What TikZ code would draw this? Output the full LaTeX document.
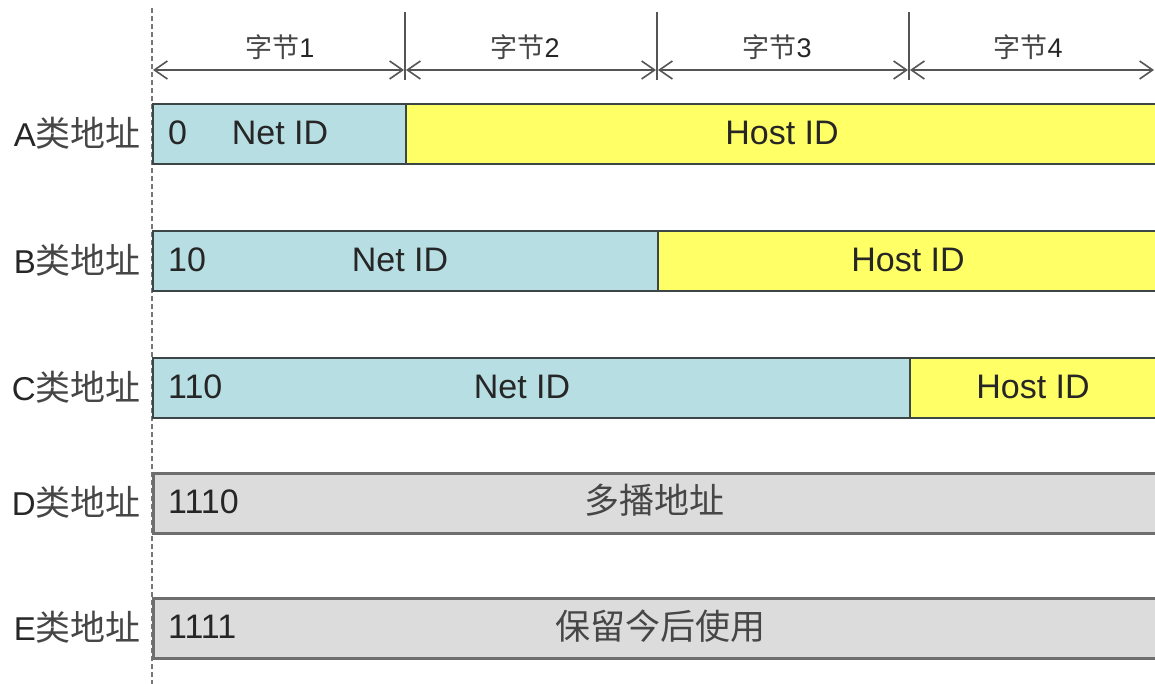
\documentclass[tikz,border=0pt]{standalone}
\usepackage{fontspec}
\setmainfont{Liberation Sans}
\newfontfamily\cjk{Noto Sans CJK SC}
\usetikzlibrary{arrows.meta}
\definecolor{netc}{RGB}{183,222,227}
\definecolor{hostc}{RGB}{255,255,102}
\definecolor{grayc}{RGB}{220,220,220}
\definecolor{edgec}{RGB}{60,70,70}
\definecolor{gedgec}{RGB}{110,110,110}
\definecolor{dimc}{RGB}{85,85,85}
\definecolor{cjkc}{RGB}{70,70,70}
\tikzset{
  seg/.style={draw=edgec, line width=2.2pt, inner sep=0pt, minimum height=60pt, anchor=north west},
  gseg/.style={seg, draw=gedgec, line width=2.6pt, fill=grayc},
  txt/.style={inner sep=0pt, font=\fontsize{34}{37}\selectfont, text=black!85},
  cjktxt/.style={inner sep=0pt, font=\cjk\fontsize{35}{38}\selectfont, text=cjkc},
  rowlbl/.style={inner sep=0pt, anchor=east, font=\fontsize{33}{36}\selectfont, text=black!85},
  dimlbl/.style={inner sep=0pt, font=\fontsize{27}{30}\selectfont, text=black!85},
  dim/.style={draw=dimc, line width=1.6pt, {Straight Barb[length=13pt,width=18pt]}-{Straight Barb[length=13pt,width=18pt]}},
  tick/.style={draw=dimc, line width=1.8pt},
}
\newcommand{\rowname}[1]{#1{\cjk\fontsize{35}{38}\selectfont\color{cjkc}类地址}}
\newcommand{\bytename}[1]{{\cjk\color{cjkc}字节}#1}
\begin{document}
\begin{tikzpicture}[x=1pt,y=-1pt]
\clip (0,0) rectangle (1155,684);
\fill[white] (0,0) rectangle (1155,684);
% guide line
\coordinate (g0) at (152,8);
\coordinate (g1) at (152,690);
\draw[dimc!80, line width=1.4pt, dash pattern=on 5pt off 3pt] (g0) -- (g1);
% ticks
\coordinate (t1a) at (405,12); \coordinate (t1b) at (405,80);
\coordinate (t2a) at (657,12); \coordinate (t2b) at (657,80);
\coordinate (t3a) at (909,12); \coordinate (t3b) at (909,80);
\draw[tick] (t1a) -- (t1b);
\draw[tick] (t2a) -- (t2b);
\draw[tick] (t3a) -- (t3b);
% dimension arrows
\coordinate (d0) at (153,70);
\coordinate (d1) at (404,70);
\coordinate (d1r) at (406,70);
\coordinate (d2) at (656,70);
\coordinate (d2r) at (658,70);
\coordinate (d3) at (908,70);
\coordinate (d3r) at (910,70);
\coordinate (d4) at (1154,70);
\draw[dim] (d0) -- (d1);
\draw[dim] (d1r) -- (d2);
\draw[dim] (d2r) -- (d3);
\draw[dim] (d3r) -- (d4);
\node[dimlbl] (b1) at (280,47) {\bytename{1}};
\node[dimlbl] (b2) at (525,47) {\bytename{2}};
\node[dimlbl] (b3) at (777,47) {\bytename{3}};
\node[dimlbl] (b4) at (1028,47) {\bytename{4}};
% Row A
\node[seg, fill=netc, minimum width=253pt] (anet) at (152,103) {};
\node[seg, fill=hostc, minimum width=760pt] (ahost) at (405,103) {};
\node[rowlbl] (albl) at (141,133) {\rowname{A}};
\node[txt, anchor=west] (a0) at (168,133) {0};
\node[txt] (anid) at (280,133) {Net ID};
\node[txt] (ahid) at (782,133) {Host ID};
% Row B
\node[seg, fill=netc, minimum width=505pt] (bnet) at (152,230) {};
\node[seg, fill=hostc, minimum width=510pt] (bhost) at (657,230) {};
\node[rowlbl] (blbl) at (141,260) {\rowname{B}};
\node[txt, anchor=west] (b0) at (168,260) {10};
\node[txt] (bnid) at (400,260) {Net ID};
\node[txt] (bhid) at (908,260) {Host ID};
% Row C
\node[seg, fill=netc, minimum width=757pt] (cnet) at (152,357) {};
\node[seg, fill=hostc, minimum width=260pt] (chost) at (909,357) {};
\node[rowlbl] (clbl) at (141,387) {\rowname{C}};
\node[txt, anchor=west] (c0) at (168,387) {110};
\node[txt] (cnid) at (522,387) {Net ID};
\node[txt] (chid) at (1033,387) {Host ID};
% Row D
\node[gseg, minimum width=1015pt] (dbox) at (152,472) {};
\node[rowlbl] (dlbl) at (141,502) {\rowname{D}};
\node[txt, anchor=west] (d0t) at (168,502) {1110};
\node[cjktxt] (dtxt) at (654,500) {多播地址};
% Row E
\node[gseg, minimum width=1015pt] (ebox) at (152,597) {};
\node[rowlbl] (elbl) at (141,627) {\rowname{E}};
\node[txt, anchor=west] (e0t) at (168,627) {1111};
\node[cjktxt] (etxt) at (660,626) {保留今后使用};
\end{tikzpicture}
\end{document}
